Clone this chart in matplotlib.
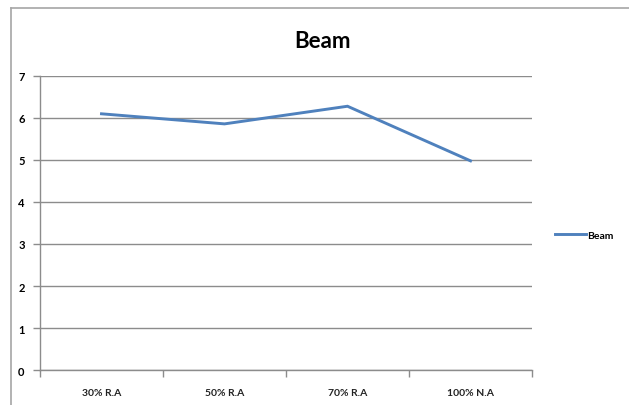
import matplotlib.pyplot as plt
from matplotlib.lines import Line2D

categories = ["30% R.A", "50% R.A", "70% R.A", "100% N.A"]
beam = [6.1, 5.86, 6.28, 4.98]

plt.rcParams["font.family"] = ["Lato", "DejaVu Sans"]

fig = plt.figure(figsize=(6.29, 4.06), dpi=100)
ax = fig.add_axes([40 / 629, 1 - 371 / 406, 492 / 629, 294 / 406])

grid_col = "#8c8c8c"
line, = ax.plot(range(len(categories)), beam, color="#4f81bd", lw=2.1,
                solid_joinstyle="miter", label="Beam")

ax.set_xlim(-0.5, len(categories) - 0.5)
ax.set_ylim(0, 7)
ax.set_yticks(range(8))
ax.set_yticklabels([str(v) for v in range(8)], fontsize=8, fontweight="bold")
ax.set_xticks(range(len(categories)))
ax.set_xticklabels(categories, fontsize=7.5, fontweight="bold", color="#222222")
ax.set_xticks([i - 0.5 for i in range(len(categories) + 1)], minor=True)
ax.tick_params(axis="x", which="major", length=0, pad=13)
ax.tick_params(axis="x", which="minor", length=5, color=grid_col, width=1)
ax.tick_params(axis="y", length=5, color=grid_col, width=1, pad=6)
ax.yaxis.grid(True, color=grid_col, lw=1)
ax.set_axisbelow(True)
for side in ("top", "right"):
    ax.spines[side].set_visible(False)
for side in ("left", "bottom"):
    ax.spines[side].set_color(grid_col)
    ax.spines[side].set_linewidth(1)

fig.text(322 / 629, 1 - 42 / 406, "Beam", ha="center", va="center",
         fontsize=16, fontweight="bold")

fig.legend(handles=[line], loc="center left", bbox_to_anchor=(546 / 629, 1 - 236 / 406),
           frameon=False, fontsize=7.5, handlelength=2.9, handletextpad=0.15,
           prop={"weight": "bold", "size": 7.5})

# chart frame on the left and top
fig.add_artist(Line2D([10.5 / 629, 10.5 / 629], [0, 1 - 9 / 406],
                      transform=fig.transFigure, color="#a6a6a6", lw=1.2))
fig.add_artist(Line2D([10.5 / 629, 1], [1 - 9 / 406, 1 - 9 / 406],
                      transform=fig.transFigure, color="#a6a6a6", lw=1.2))

fig.savefig("out.png", dpi=100)
